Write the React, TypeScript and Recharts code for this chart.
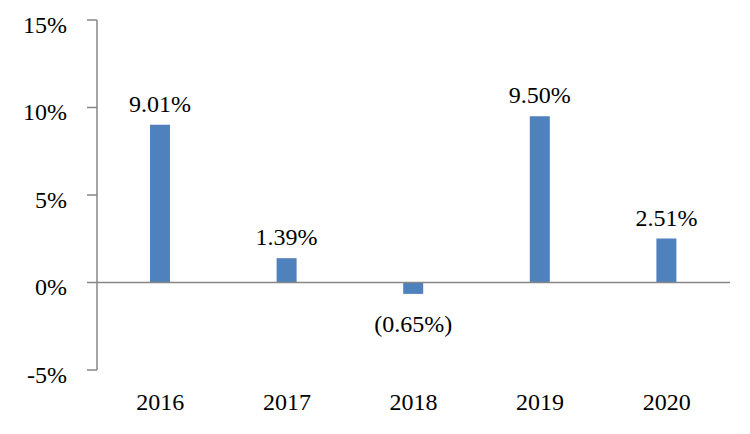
import React from "react";
import { BarChart, Bar, XAxis, YAxis, ReferenceLine, LabelList } from "recharts";

const years = ["2016", "2017", "2018", "2019", "2020"];
const growth = [9.01, 1.39, -0.65, 9.5, 2.51];
const yTicks = [-5, 0, 5, 10, 15];

const data = years.map((year, i) => ({ year, value: growth[i] }));

const FONT = "'Liberation Serif', 'Times New Roman', serif";

const fmt = (v: number) => (v < 0 ? `(${Math.abs(v).toFixed(2)}%)` : `${v.toFixed(2)}%`);

const ValueLabel = (props: any) => {
  const { x, y, width, height, value } = props;
  const top = Math.min(y, y + height);
  const bottom = Math.max(y, y + height);
  const cx = x + width / 2;
  const v = Number(value);
  const ty = v < 0 ? bottom + 38 : top - 13;
  return (
    <text x={cx} y={ty} textAnchor="middle" fontFamily={FONT} fontSize={24} fill="#000">
      {fmt(v)}
    </text>
  );
};

export default function App() {
  return (
    <BarChart
      width={742}
      height={426}
      data={data}
      margin={{ top: 12, right: 20, left: 0, bottom: 0 }}
      barSize={20}
    >
      <XAxis
        dataKey="year"
        axisLine={false}
        tickLine={false}
        height={64}
        tickMargin={17}
        tick={{ fontFamily: FONT, fontSize: 24, fill: "#000" }}
      />
      <YAxis
        domain={[-5, 15]}
        ticks={yTicks}
        width={89}
        interval={0}
        tickSize={10}
        tickMargin={20}
        axisLine={{ stroke: "#868686", strokeWidth: 1.5 }}
        tickLine={{ stroke: "#868686", strokeWidth: 1.5 }}
        tickFormatter={(v: number) => `${v}%`}
        tick={{ fontFamily: FONT, fontSize: 24, fill: "#000", dy: 4 }}
      />
      <ReferenceLine y={0} stroke="#868686" strokeWidth={1.5} />
      <Bar dataKey="value" fill="#4F81BD" isAnimationActive={false}>
        <LabelList dataKey="value" content={<ValueLabel />} />
      </Bar>
    </BarChart>
  );
}
